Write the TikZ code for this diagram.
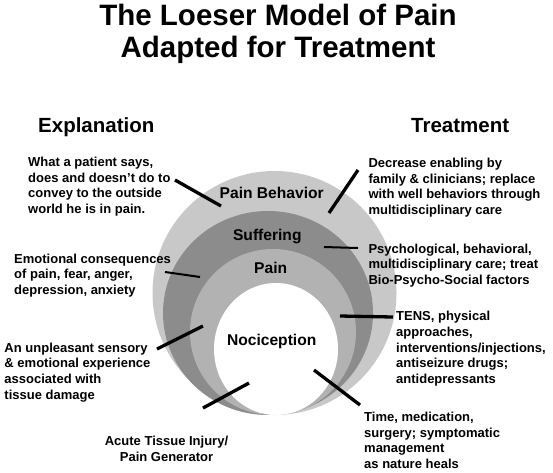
\documentclass[tikz,border=0pt]{standalone}
\usepackage{fontspec}
\setmainfont{Liberation Sans}
\definecolor{behavgray}{RGB}{200, 200, 200}
\definecolor{suffgray}{RGB}{140, 140, 140}
\definecolor{paingray}{RGB}{178, 178, 178}
\usetikzlibrary{positioning}

\begin{document}
\begin{tikzpicture}[x=1pt, y=-1pt,
    note/.style={anchor=north west, align=left, inner sep=0pt,
                 font=\fontsize{13}{15.6}\selectfont\bfseries},
    head/.style={anchor=base west, inner sep=0pt,
                 font=\fontsize{20.5}{24}\selectfont\bfseries},
    ringlabel/.style={anchor=base, inner sep=0pt,
                 font=\fontsize{15.6}{18}\selectfont\bfseries},
    lead/.style={line width=3.3pt},
    leadthin/.style={line width=2pt}
  ]
    \useasboundingbox (0,0) rectangle (553,472);

    % title and column heads
    \node[anchor=north, align=center, inner sep=0pt,
          font=\fontsize{29.5}{32}\selectfont\bfseries] (title) at (278,4)
      {The Loeser Model of Pain\\Adapted for Treatment};
    \node[head] (explhead) at (38,132) {Explanation};
    \node[head] (treathead) at (411,132) {Treatment};

    % the nested rings
    \fill[behavgray] (274.5,293) circle[radius=122pt];
    \fill[suffgray] (268,313) ellipse[x radius=105pt, y radius=102pt];
    \fill[paingray] (273,332) circle[radius=83pt];
    \fill[white] (276,349) ellipse[x radius=62pt, y radius=66pt];

    \node[ringlabel] (behavior) at (271.7,198.9) {Pain Behavior};
    \node[ringlabel] (suffering) at (267.3,240.6) {Suffering};
    \node[ringlabel] (pain) at (270.7,273.9) {Pain};
    \node[ringlabel] (nociception) at (271.7,345.6) {Nociception};

    % explanations
    \node[note] (whatsays) at (28,157)
      {What a patient says,\\does and doesn't do to\\convey to the outside\\world he is in pain.};
    \node[note] (emotional) at (14,253.6)
      {Emotional consequences\\of pain, fear, anger,\\depression, anxiety};
    \node[note] (unpleasant) at (4.3,342.6)
      {An unpleasant sensory\\\& emotional experience\\associated with\\tissue damage};
    \node[note, anchor=north, align=center] (acute) at (166.5,436.3)
      {Acute Tissue Injury/\\Pain Generator};

    % treatments
    \node[note] (decrease) at (368.3,158)
      {Decrease enabling by\\family \& clinicians; replace\\with well behaviors through\\multidisciplinary care};
    \node[note] (psycho) at (368.3,243.6)
      {Psychological, behavioral,\\multidisciplinary care; treat\\Bio-Psycho-Social factors};
    \node[note] (tens) at (396,311.3)
      {TENS, physical\\approaches,\\interventions/injections,\\antiseizure drugs;\\antidepressants};
    \node[note] (timemed) at (364,412)
      {Time, medication,\\surgery; symptomatic\\management\\as nature heals};

    % end points of the leader lines
    \coordinate (whatsays-end) at (175,180);
    \coordinate (behavior-pt) at (221,206);
    \coordinate (emotional-end) at (165,272);
    \coordinate (suffering-pt) at (200,277);
    \coordinate (unpleasant-end) at (157,349);
    \coordinate (pain-pt) at (203,326);
    \coordinate (acute-end) at (203,408);
    \coordinate (nocicep-pt) at (249,383);
    \coordinate (decrease-end) at (358,170);
    \coordinate (behavior-rt) at (329,213);
    \coordinate (psycho-end) at (358,248);
    \coordinate (suffering-rt) at (324,247);
    \coordinate (tens-end) at (393,317);
    \coordinate (pain-rt) at (340,316);
    \coordinate (timemed-end) at (360,405);
    \coordinate (nocicep-rt) at (314,370);

    \draw[lead] (whatsays-end) -- (behavior-pt);
    \draw[leadthin] (emotional-end) -- (suffering-pt);
    \draw[lead] (unpleasant-end) -- (pain-pt);
    \draw[lead] (acute-end) -- (nocicep-pt);
    \draw[lead] (decrease-end) -- (behavior-rt);
    \draw[leadthin] (psycho-end) -- (suffering-rt);
    \draw[lead] (tens-end) -- (pain-rt);
    \draw[lead] (timemed-end) -- (nocicep-rt);
  \end{tikzpicture}
\end{document}
